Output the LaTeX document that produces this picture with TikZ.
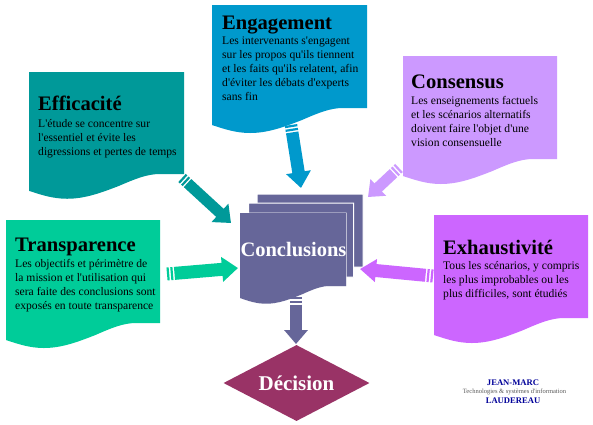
\documentclass[tikz,border=0pt]{standalone}
\usepackage{fontspec}
\setmainfont{Liberation Serif}[Ligatures=TeXOff]
\usetikzlibrary{arrows.meta,calc,shapes.geometric}
\definecolor{cEng}{HTML}{0099CC}
\definecolor{cEff}{HTML}{009999}
\definecolor{cTra}{HTML}{00CC99}
\definecolor{cCon}{HTML}{CC99FF}
\definecolor{cExh}{HTML}{CC66FF}
\definecolor{cCcl}{HTML}{666699}
\definecolor{cDec}{HTML}{993366}
\definecolor{cNavy}{HTML}{000099}
\tikzset{
  titletext/.style={anchor=base west,inner sep=0pt,font=\fontsize{20.6}{22}\selectfont\bfseries,text=black},
  bodytext/.style={anchor=north west,inner sep=0pt,align=left,font=\fontsize{11.6}{14}\selectfont,text=black},
  whitetext/.style={anchor=base,inner sep=0pt,text=white},
  footname/.style={anchor=base,inner sep=0pt,font=\fontsize{8.6}{9}\selectfont\bfseries,text=cNavy},
  footsub/.style={anchor=base,inner sep=0pt,font=\fontsize{6.5}{7}\selectfont,text=black!65},
}
% x, y, width, height to right bottom, colour, extra options
\newcommand{\docsheet}[6]{%
  \begin{scope}[shift={(#1,#2)},xscale=#3/155,yscale=#4/103]
    \path[fill=#5,#6] (0,0) -- (155,0) -- (155,103) -- (131,103)
      .. controls (118,103) and (106,108) .. (90,115)
      .. controls (72,122) and (56,128) .. (38,128)
      .. controls (24,128) and (12,124) .. (0,120) -- cycle;
  \end{scope}}
% start, tip, colour, shaft width, head width, head length
\newcommand{\fatarrow}[6]{%
  \draw[#3,line width=#4pt] ($(#1)!0pt!(#2)$) -- ($(#1)!2.2pt!(#2)$);
  \draw[#3,line width=#4pt] ($(#1)!3.8pt!(#2)$) -- ($(#1)!6pt!(#2)$);
  \draw[#3,line width=#4pt,-{Triangle[width=#5pt,length=#6pt]}] ($(#1)!7.5pt!(#2)$) -- (#2);}
\begin{document}
\begin{tikzpicture}[x=1pt,y=-1pt]
\useasboundingbox (0,0) rectangle (593,424);
\fill[white] (0,0) rectangle (593,424);

\docsheet{212}{5}{155}{103}{cEng}{}
\docsheet{29}{72}{155}{102}{cEff}{}
\docsheet{6}{220}{154}{103}{cTra}{}
\docsheet{403}{56}{154}{103}{cCon}{}
\docsheet{434}{215}{154}{103}{cExh}{}

\docsheet{257}{194}{106}{73}{cCcl}{draw=white,line width=1pt}
\docsheet{248.5}{203}{105}{74}{cCcl}{draw=white,line width=1pt}
\docsheet{240}{213}{106}{73}{cCcl}{draw=white,line width=1pt}
\docsheet{240}{213}{106}{73}{cCcl}{}

\node[diamond,fill=cDec,inner sep=0pt,minimum width=146pt,minimum height=76pt,aspect=1.92] (dec) at (296.5,383) {};

\coordinate (engS) at (291,125); \coordinate (engT) at (301,188);
\coordinate (effS) at (182,178); \coordinate (effT) at (231,223);
\coordinate (traS) at (167,274); \coordinate (traT) at (238,268);
\coordinate (conS) at (399,168); \coordinate (conT) at (368,197);
\coordinate (exhS) at (433,276); \coordinate (exhT) at (360,269);
\coordinate (cclS) at (296,297); \coordinate (cclT) at (296,344);
\fatarrow{engS}{engT}{cEng}{12.5}{24}{16}
\fatarrow{effS}{effT}{cEff}{11}{24}{15}
\fatarrow{traS}{traT}{cTra}{13}{24}{16}
\fatarrow{conS}{conT}{cCon}{11}{22}{14}
\fatarrow{exhS}{exhT}{cExh}{13}{22}{16}
\fatarrow{cclS}{cclT}{cCcl}{12}{23}{14}

\node[titletext] (t1) at (222,29) {Engagement};
\node[bodytext] (b1) at (222,37) {Les intervenants s'engagent\\sur les propos qu'ils tiennent\\et les faits qu'ils relatent, afin\\d'éviter les débats d'experts\\sans fin};
\node[titletext] (t2) at (38,110) {Efficacité};
\node[bodytext] (b2) at (38,119) {L'étude se concentre sur\\l'essentiel et évite les\\digressions et pertes de temps};
\node[titletext] (t3) at (15,251) {Transparence};
\node[bodytext] (b3) at (15,259) {Les objectifs et périmètre de\\la mission et l'utilisation qui\\sera faite des conclusions sont\\exposés en toute transparence};
\node[titletext] (t4) at (411,88) {Consensus};
\node[bodytext] (b4) at (411,96) {Les enseignements factuels\\et les scénarios alternatifs\\doivent faire l'objet d'une\\vision consensuelle};
\node[titletext] (t5) at (443,254) {Exhaustivité};
\node[bodytext] (b5) at (443,261) {Tous les scénarios, y compris\\les plus improbables ou les\\plus difficiles, sont étudiés};

\node[whitetext,font=\fontsize{20.5}{22}\selectfont\bfseries] (ccl) at (293.5,256) {Conclusions};
\node[whitetext,font=\fontsize{21}{22}\selectfont\bfseries] (dtx) at (296.5,390) {Décision};

\node[footname] (f1) at (513,385) {JEAN-MARC};
\node[footsub] (f2) at (514.5,393.5) {Technologies \& systèmes d'information};
\node[footname] (f3) at (513,403) {LAUDEREAU};
\end{tikzpicture}
\end{document}
